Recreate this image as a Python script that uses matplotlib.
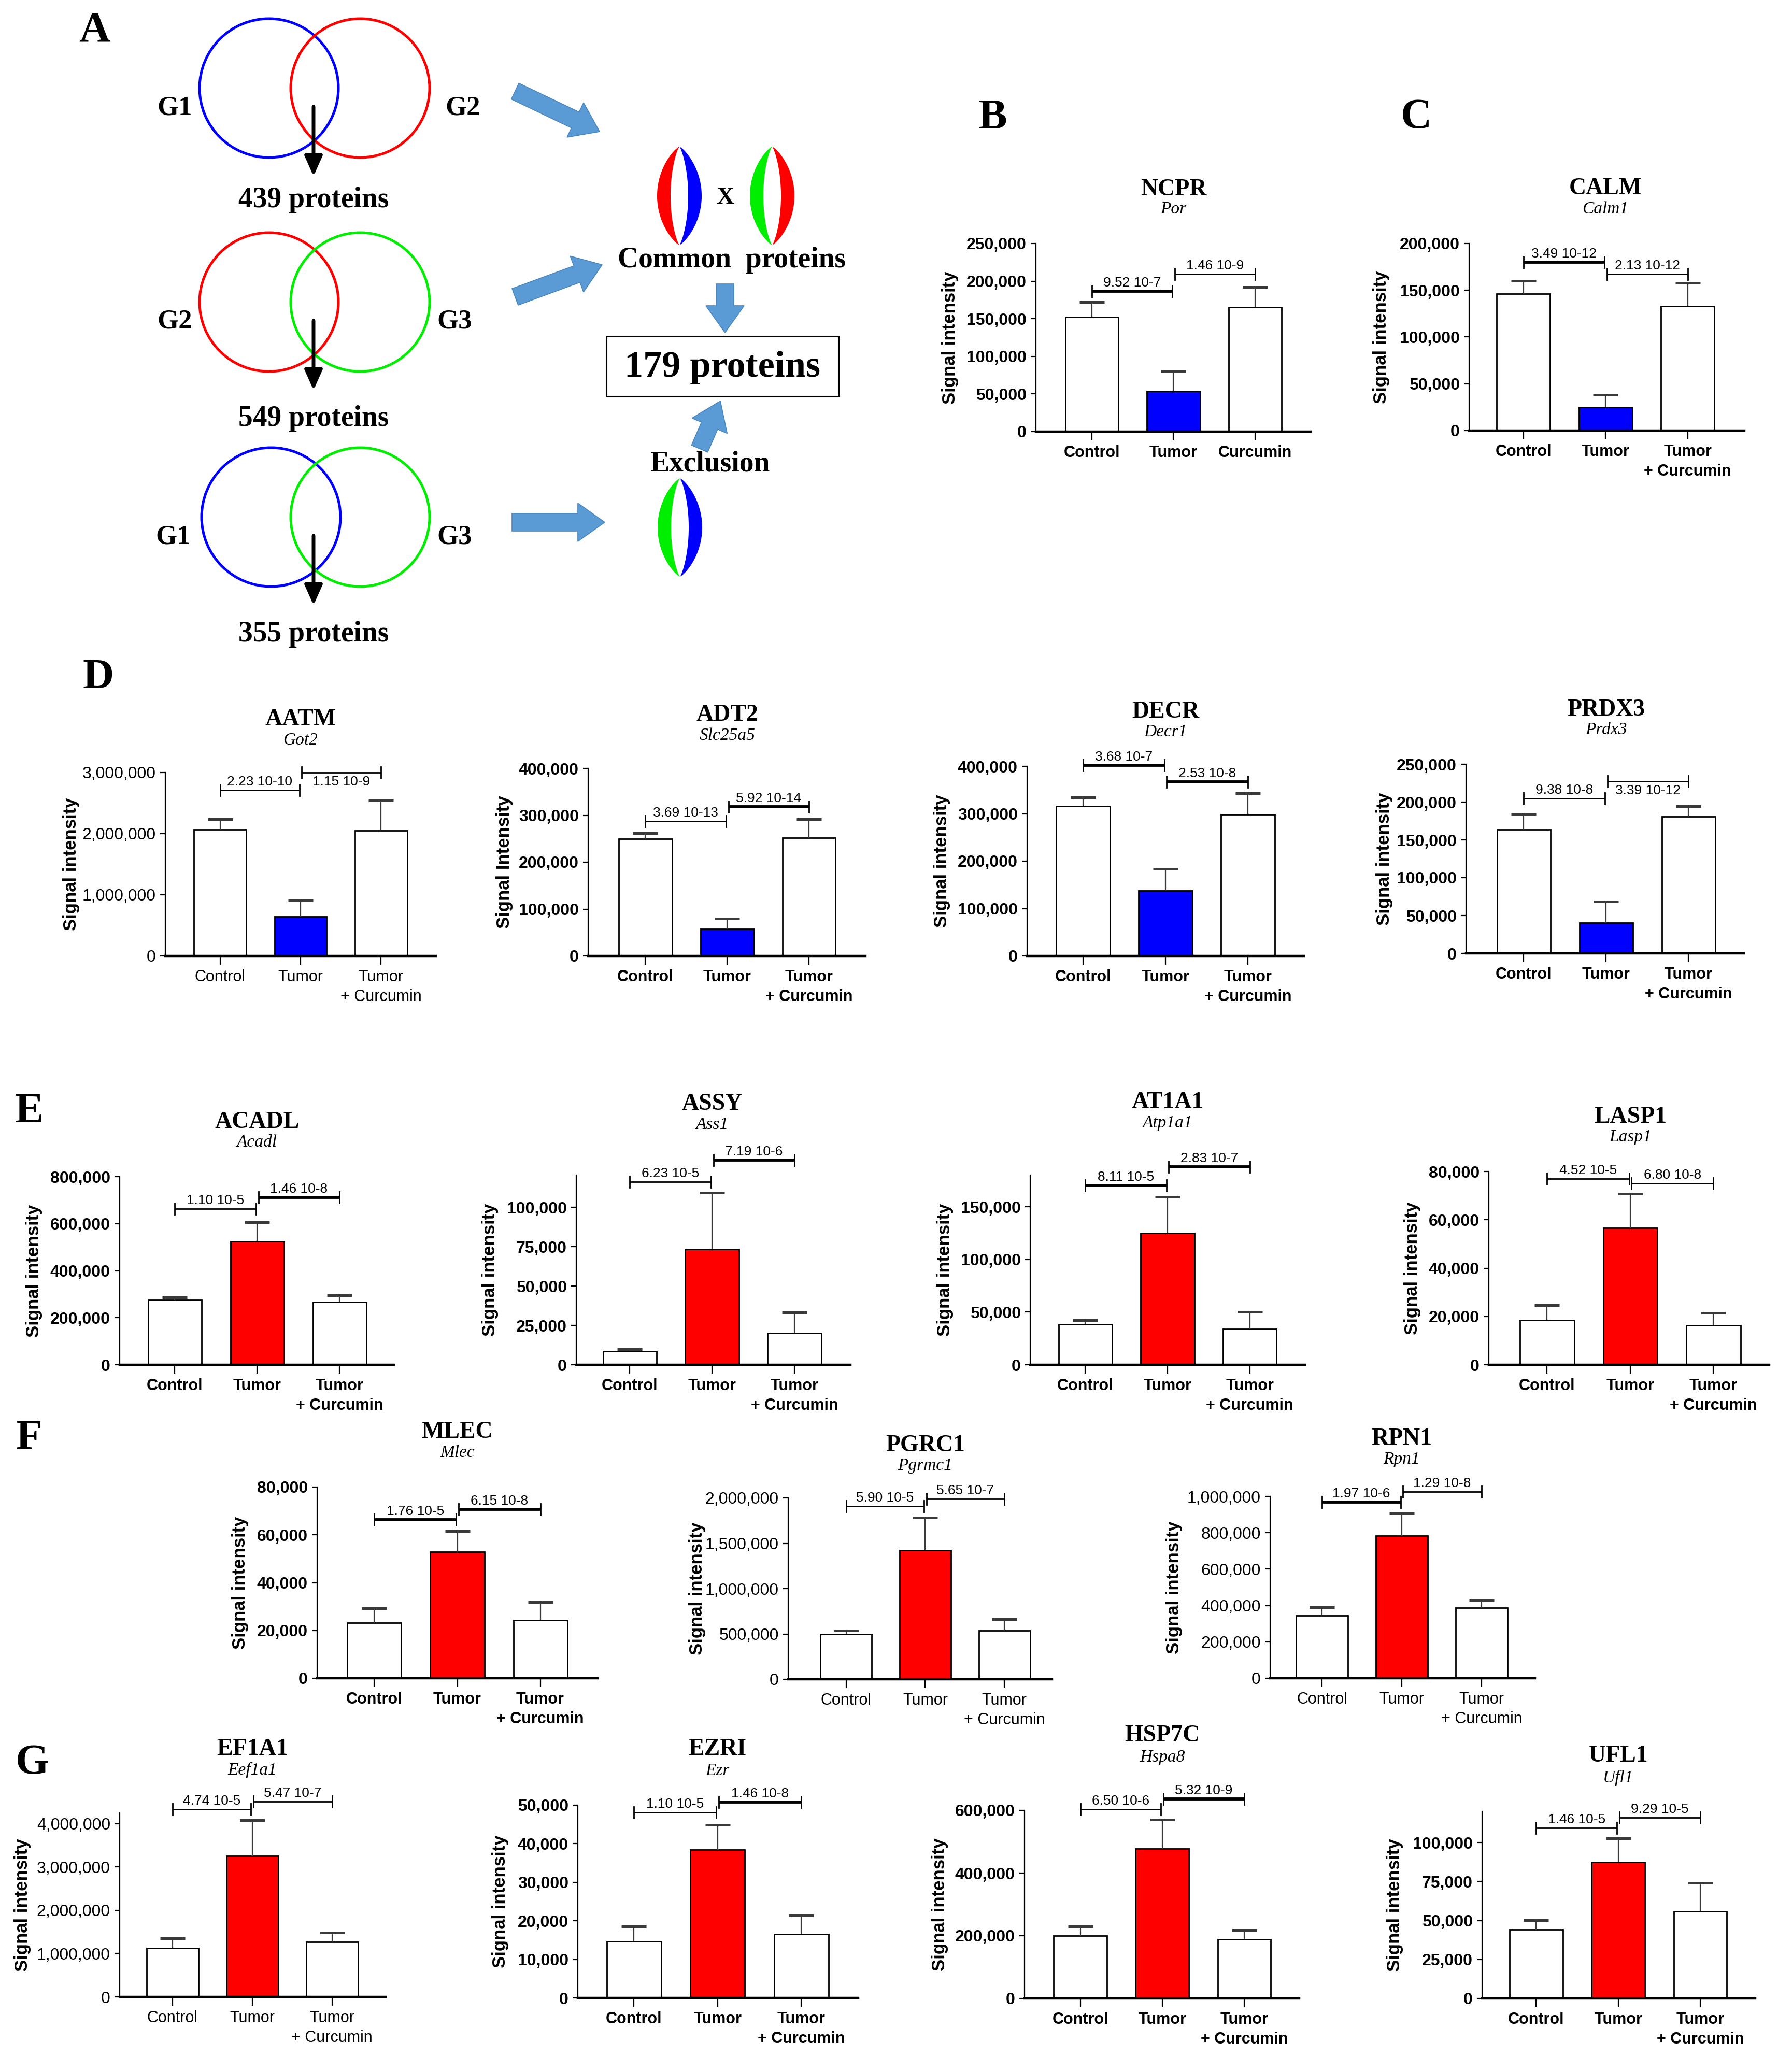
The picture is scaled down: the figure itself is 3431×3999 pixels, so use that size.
import numpy as np
import matplotlib
matplotlib.use("Agg")
import matplotlib.pyplot as plt
from matplotlib.patches import Circle, Rectangle, Polygon, FancyArrow
from matplotlib.ticker import FuncFormatter, MultipleLocator

# ====================== DATA ======================
venn_pairs = [("G1", "G2"), ("G2", "G3"), ("G1", "G3")]
venn_counts = [439, 549, 355]
final_count = 179

cats_b = ["Control", "Tumor", "Curcumin"]
cats = ["Control", "Tumor", "Tumor\n+ Curcumin"]

ncpr_mean = [152000, 54000, 165000];      ncpr_sd = [20000, 26000, 27000]
ncpr_p = ["9.52 10-7", "1.46 10-9"];      ncpr_py = [186800, 209600]

calm_mean = [146000, 25000, 133000];      calm_sd = [14000, 13500, 25000]
calm_p = ["3.49 10-12", "2.13 10-12"];    calm_py = [180300, 167400]

aatm_mean = [2070000, 646000, 2050000];   aatm_sd = [170000, 258000, 494000]
aatm_p = ["2.23 10-10", "1.15 10-9"];     aatm_py = [2715000, 3000000]

adt2_mean = [249500, 57400, 251500];      adt2_sd = [11900, 21800, 40500]
adt2_p = ["3.69 10-13", "5.92 10-14"];    adt2_py = [287000, 317800]

decr_mean = [316300, 137600, 298700];     decr_sd = [18600, 46000, 44000]
decr_p = ["3.68 10-7", "2.53 10-8"];      decr_py = [402400, 367200]

prdx3_mean = [164000, 40400, 180500];     prdx3_sd = [20200, 28400, 14100]
prdx3_p = ["9.38 10-8", "3.39 10-12"];    prdx3_py = [205000, 227700]

acadl_mean = [276000, 525000, 265700];    acadl_sd = [10000, 81700, 29800]
acadl_p = ["1.10 10-5", "1.46 10-8"];     acadl_py = [664000, 711000]

assy_mean = [8600, 73500, 20200];         assy_sd = [1400, 35800, 13100]
assy_p = ["6.23 10-5", "7.19 10-6"];      assy_py = [116200, 130000]

at1a1_mean = [38400, 124900, 33800];      at1a1_sd = [4100, 34400, 16600]
at1a1_p = ["8.11 10-5", "2.83 10-7"];     at1a1_py = [170000, 187800]

lasp1_mean = [18400, 56600, 16300];       lasp1_sd = [6300, 14200, 5100]
lasp1_p = ["4.52 10-5", "6.80 10-8"];     lasp1_py = [77000, 75000]

mlec_mean = [23200, 53000, 24200];        mlec_sd = [6000, 8500, 7600]
mlec_p = ["1.76 10-5", "6.15 10-8"];      mlec_py = [66400, 70600]

pgrc1_mean = [497700, 1421000, 538500];   pgrc1_sd = [40300, 364000, 124500]
pgrc1_p = ["5.90 10-5", "5.65 10-7"];     pgrc1_py = [1909000, 1986000]

rpn1_mean = [344600, 783000, 386400];     rpn1_sd = [45200, 124000, 39600]
rpn1_p = ["1.97 10-6", "1.29 10-8"];      rpn1_py = [968000, 1027000]

ef1a1_mean = [1130000, 3257000, 1273000]; ef1a1_sd = [220000, 831000, 213000]
ef1a1_p = ["4.74 10-5", "5.47 10-7"];     ef1a1_py = [4330000, 4510000]

ezri_mean = [14600, 38400, 16500];        ezri_sd = [3950, 6500, 4900]
ezri_p = ["1.10 10-5", "1.46 10-8"];      ezri_py = [48100, 50800]

hsp7c_mean = [200000, 478000, 189000];    hsp7c_sd = [29400, 92000, 29600]
hsp7c_p = ["6.50 10-6", "5.32 10-9"];     hsp7c_py = [603600, 637000]

ufl1_mean = [44200, 87500, 56000];        ufl1_sd = [6100, 15100, 18200]
ufl1_p = ["1.46 10-5", "9.29 10-5"];      ufl1_py = [109500, 115900]

# ====================== STYLE / LAYOUT ======================
W, H = 3431, 3999
SERIF = ["Liberation Serif", "DejaVu Serif"]
SANS = ["Liberation Sans", "DejaVu Sans"]
BLUE, RED, GREEN = "#0000FF", "#FF0000", "#00EE00"
ARROW_BLUE = "#5B9BD5"

panels = [
    dict(t="NCPR", g="Por", m=ncpr_mean, s=ncpr_sd, p=ncpr_p, py=ncpr_py, c=cats_b, hi=BLUE,
         box=(1999, 2529, 470, 833), xl=(-0.686, 2.68), ymax=250000, step=50000, ty=366, gy=404,
         thick=(1, 0), below=(0, 0), bold=1, yl="Signal intensity", lx=1834),
    dict(t="CALM", g="Calm1", m=calm_mean, s=calm_sd, p=calm_p, py=calm_py, c=cats, hi=BLUE,
         box=(2835, 3366, 470, 831), xl=(-0.66, 2.69), ymax=200000, step=50000, ty=364, gy=404,
         thick=(1, 0), below=(0, 0), bold=1, yl="Signal intensity", lx=2666),
    dict(t="AATM", g="Got2", m=aatm_mean, s=aatm_sd, p=aatm_p, py=aatm_py, c=cats, hi=BLUE,
         box=(319, 841, 1491, 1845), xl=(-0.68, 2.68), ymax=3000000, step=1000000, ty=1389, gy=1429,
         thick=(0, 0), below=(0, 1), bold=0, yl="Signal intensity", lx=137),
    dict(t="ADT2", g="Slc25a5", m=adt2_mean, s=adt2_sd, p=adt2_p, py=adt2_py, c=cats, hi=BLUE,
         box=(1135, 1670, 1483, 1845), xl=(-0.70, 2.69), ymax=400000, step=100000, ty=1380, gy=1420,
         thick=(0, 1), below=(0, 0), bold=1, yl="Signal Intensity", lx=973),
    dict(t="DECR", g="Decr1", m=decr_mean, s=decr_sd, p=decr_p, py=decr_py, c=cats, hi=BLUE,
         box=(1982, 2516, 1479, 1845), xl=(-0.68, 2.68), ymax=400000, step=100000, ty=1374, gy=1413,
         thick=(1, 1), below=(0, 0), bold=1, yl="Signal intensity", lx=1818),
    dict(t="PRDX3", g="Prdx3", m=prdx3_mean, s=prdx3_sd, p=prdx3_p, py=prdx3_py, c=cats, hi=BLUE,
         box=(2829, 3365, 1475, 1840), xl=(-0.70, 2.67), ymax=250000, step=50000, ty=1370, gy=1409,
         thick=(0, 0), below=(0, 1), bold=1, yl="Signal intensity", lx=2671),
    dict(t="ACADL", g="Acadl", m=acadl_mean, s=acadl_sd, p=acadl_p, py=acadl_py, c=cats, hi=RED,
         box=(231, 760, 2271, 2634), xl=(-0.67, 2.66), ymax=800000, step=200000, ty=2166, gy=2205,
         thick=(0, 1), below=(0, 0), bold=1, yl="Signal intensity", lx=66),
    dict(t="ASSY", g="Ass1", m=assy_mean, s=assy_sd, p=assy_p, py=assy_py, c=cats, hi=RED,
         box=(1112, 1641, 2268, 2634), xl=(-0.65, 2.68), ymax=120500, step=25000, ty=2131, gy=2171,
         thick=(0, 1), below=(0, 0), bold=1, yl="Signal intensity", lx=945),
    dict(t="AT1A1", g="Atp1a1", m=at1a1_mean, s=at1a1_sd, p=at1a1_p, py=at1a1_py, c=cats, hi=RED,
         box=(1988, 2518, 2268, 2634), xl=(-0.67, 2.67), ymax=180000, step=50000, ty=2128, gy=2168,
         thick=(1, 1), below=(0, 0), bold=1, yl="Signal intensity", lx=1824),
    dict(t="LASP1", g="Lasp1", m=lasp1_mean, s=lasp1_sd, p=lasp1_p, py=lasp1_py, c=cats, hi=RED,
         box=(2873, 3414, 2261, 2634), xl=(-0.70, 2.67), ymax=80000, step=20000, ty=2156, gy=2195,
         thick=(0, 0), below=(0, 0), bold=1, yl="Signal intensity", lx=2726),
    dict(t="MLEC", g="Mlec", m=mlec_mean, s=mlec_sd, p=mlec_p, py=mlec_py, c=cats, hi=RED,
         box=(612, 1153, 2870, 3239), xl=(-0.69, 2.69), ymax=80000, step=20000, ty=2764, gy=2804,
         thick=(1, 1), below=(0, 0), bold=1, yl="Signal intensity", lx=463),
    dict(t="PGRC1", g="Pgrmc1", m=pgrc1_mean, s=pgrc1_sd, p=pgrc1_p, py=pgrc1_py, c=cats, hi=RED,
         box=(1521, 2030, 2891, 3241), xl=(-0.73, 2.60), ymax=2000000, step=500000, ty=2790, gy=2829,
         thick=(0, 0), below=(0, 0), bold=0, yl="Signal intensity", lx=1345),
    dict(t="RPN1", g="Rpn1", m=rpn1_mean, s=rpn1_sd, p=rpn1_p, py=rpn1_py, c=cats, hi=RED,
         box=(2451, 2962, 2888, 3239), xl=(-0.65, 2.67), ymax=1000000, step=200000, ty=2777, gy=2817,
         thick=(1, 0), below=(0, 0), bold=0, yl="Signal intensity", lx=2265),
    dict(t="EF1A1", g="Eef1a1", m=ef1a1_mean, s=ef1a1_sd, p=ef1a1_p, py=ef1a1_py, c=cats, hi=RED,
         box=(231, 744, 3499, 3854), xl=(-0.66, 2.67), ymax=4250000, step=1000000, ty=3376, gy=3416,
         thick=(0, 0), below=(0, 0), bold=0, yl="Signal intensity", lx=44),
    dict(t="EZRI", g="Ezr", m=ezri_mean, s=ezri_sd, p=ezri_p, py=ezri_py, c=cats, hi=RED,
         box=(1115, 1656, 3484, 3856), xl=(-0.67, 2.68), ymax=50000, step=10000, ty=3376, gy=3418,
         thick=(0, 1), below=(0, 0), bold=1, yl="Signal intensity", lx=965),
    dict(t="HSP7C", g="Hspa8", m=hsp7c_mean, s=hsp7c_sd, p=hsp7c_p, py=hsp7c_py, c=cats, hi=RED,
         box=(1977, 2507, 3494, 3857), xl=(-0.68, 2.67), ymax=600000, step=200000, ty=3350, gy=3392,
         thick=(0, 1), below=(0, 0), bold=1, yl="Signal intensity", lx=1813),
    dict(t="UFL1", g="Ufl1", m=ufl1_mean, s=ufl1_sd, p=ufl1_p, py=ufl1_py, c=cats, hi=RED,
         box=(2860, 3387, 3496, 3857), xl=(-0.66, 2.67), ymax=120000, step=25000, ty=3389, gy=3431,
         thick=(0, 0), below=(0, 0), bold=1, yl="Signal intensity", lx=2691),
]

panel_letters = [("A", 182, 60), ("B", 1915, 228), ("C", 2733, 228), ("D", 190, 1308),
                 ("E", 56, 2146), ("F", 56, 2777), ("G", 62, 3404)]

# ====================== FIGURE ======================
fig = plt.figure(figsize=(W / 100, H / 100), dpi=100)
fig.patch.set_facecolor("white")
bg = fig.add_axes([0, 0, 1, 1])
bg.set_xlim(0, W)
bg.set_ylim(H, 0)
bg.axis("off")


def ptxt(x, y, s, size, **kw):
    kw.setdefault("family", SERIF)
    kw.setdefault("fontweight", "bold")
    bg.text(x, y, s, fontsize=size, ha=kw.pop("ha", "center"), va=kw.pop("va", "center"), **kw)


# ---------------- Panel A ----------------
row_cy = [170, 583, 998]
left_cx = [519, 519, 523]
right_cx = [695, 695, 695]
set_col = {"G1": BLUE, "G2": RED, "G3": GREEN}
lab_left_x = [337, 337, 334]
lab_right_x = [893, 877, 877]
count_y = [386, 808, 1224]
R = 134
for k, (a, b) in enumerate(venn_pairs):
    cy = row_cy[k]
    bg.add_patch(Circle((left_cx[k], cy), R, fill=False, ec=set_col[a], lw=3.6))
    bg.add_patch(Circle((right_cx[k], cy), R, fill=False, ec=set_col[b], lw=3.6))
    ptxt(lab_left_x[k], cy + 38, a, 38)
    ptxt(lab_right_x[k], cy + 38, b, 38)
    bg.annotate("", xy=(605, cy + 170), xytext=(605, cy + 36),
                arrowprops=dict(arrowstyle="-|>,head_width=0.4,head_length=0.9",
                                lw=5, color="black", shrinkA=0, shrinkB=0, mutation_scale=26))
    ptxt(605, count_y[k], f"{venn_counts[k]} proteins", 40)

blk = dict(width=34, head_width=74, head_length=52, length_includes_head=True,
           fc=ARROW_BLUE, ec="#4A86BE", lw=1.2)
bg.add_patch(FancyArrow(994, 176, 163, 78, **blk))
bg.add_patch(FancyArrow(994, 573, 168, -62, **blk))
bg.add_patch(FancyArrow(988, 1008, 179, 0, **blk))
bg.add_patch(FancyArrow(1399, 548, 0, 94, **blk))
bg.add_patch(FancyArrow(1350, 866, 40, -92, **blk))


def lens(cx, cy, cl, cr, a=43, b=95, ai=17, wl=1.0, wr=0.8):
    t = np.linspace(-1, 1, 120)
    g = (1 - t ** 2) ** 0.8
    yy = cy + b * t
    left = np.column_stack([np.r_[cx - a * g, (cx - ai * g)[::-1]], np.r_[yy, yy[::-1]]])
    right = np.column_stack([np.r_[cx + a * g, (cx + ai * g)[::-1]], np.r_[yy, yy[::-1]]])
    bg.add_patch(Polygon(left, closed=True, fc=cl, ec="none"))
    bg.add_patch(Polygon(right, closed=True, fc=cr, ec="none"))


lens(1311, 378, RED, BLUE)
lens(1490, 378, GREEN, RED)
lens(1312, 1018, GREEN, BLUE)
ptxt(1399, 382, "X", 34)
ptxt(1412, 502, "Common  proteins", 40)
bg.add_patch(Rectangle((1170, 649), 448, 116, fill=False, ec="black", lw=2.2))
ptxt(1394, 709, f"{final_count} proteins", 52)
ptxt(1370, 896, "Exclusion", 40)

for L, x, y in panel_letters:
    ptxt(x, y, L, 60)

# ---------------- bar panels ----------------
fmt = FuncFormatter(lambda v, _: f"{int(round(v)):,}")
xpos = np.arange(3)

for P in panels:
    x0, x1, yt, yb = P["box"]
    ax = fig.add_axes([x0 / W, 1 - yb / H, (x1 - x0) / W, (yb - yt) / H])
    ax.set_xlim(*P["xl"])
    ax.set_ylim(0, P["ymax"])
    ax.patch.set_alpha(0)
    cols = ["white", P["hi"], "white"]
    ax.bar(xpos, P["m"], width=0.65, color=cols, edgecolor="black", linewidth=2.0, zorder=2)
    eb = ax.errorbar(xpos, P["m"], yerr=[np.zeros(3), P["s"]], fmt="none", ecolor="#3a3a3a",
                     elinewidth=1.6, capsize=17, capthick=3.6, zorder=3)
    eb[1][0].set_visible(False)
    eb[1][1].set_color("#7a7a7a")

    for sp in ("top", "right"):
        ax.spines[sp].set_visible(False)
    ax.spines["bottom"].set_linewidth(3.2)
    ax.spines["left"].set_linewidth(1.6)
    wt = "bold" if P["bold"] else "normal"
    ax.yaxis.set_major_locator(MultipleLocator(P["step"]))
    ax.yaxis.set_major_formatter(fmt)
    ax.tick_params(axis="y", length=7, width=1.6, pad=6, labelsize=23)
    ax.tick_params(axis="x", length=12, width=1.6, pad=7, labelsize=22)
    ax.set_xticks(xpos)
    ax.set_xticklabels(P["c"], fontweight=wt, family=SANS, linespacing=1.35)
    for lb in ax.get_yticklabels():
        lb.set_fontweight(wt)
        lb.set_family(SANS)

    # significance brackets
    px_per_unit = (yb - yt) / P["ymax"]
    tick = 11 / px_per_unit
    off = 4 / px_per_unit
    pairs = [(0.0, 0.985), (1.015, 2.0)]
    for k, (i, j) in enumerate(pairs):
        y = P["py"][k]
        lw = 4.2 if P["thick"][k] else 2.0
        ax.plot([i, j], [y, y], color="black", lw=lw, clip_on=False, solid_capstyle="butt", zorder=4)
        for xx in (i, j):
            ax.plot([xx, xx], [y - tick, y + tick], color="black", lw=2.0, clip_on=False, zorder=4)
        if P["below"][k]:
            ax.text((i + j) / 2, y - off * 1.5, P["p"][k], ha="center", va="top", fontsize=19,
                    family=SANS, clip_on=False)
        else:
            ax.text((i + j) / 2, y + off, P["p"][k], ha="center", va="bottom", fontsize=19,
                    family=SANS, clip_on=False)

    # titles and y label
    xc = x0 + (1 - P["xl"][0]) / (P["xl"][1] - P["xl"][0]) * (x1 - x0)
    ptxt(xc, P["ty"], P["t"], 33)
    ptxt(xc, P["gy"], P["g"], 24, fontweight="normal", style="italic")
    bg.text(P["lx"], (yt + yb) / 2, P["yl"], rotation=90, ha="center", va="center",
            fontsize=25, fontweight="bold", family=SANS)

fig.savefig("out.png", dpi=100, facecolor="white")
